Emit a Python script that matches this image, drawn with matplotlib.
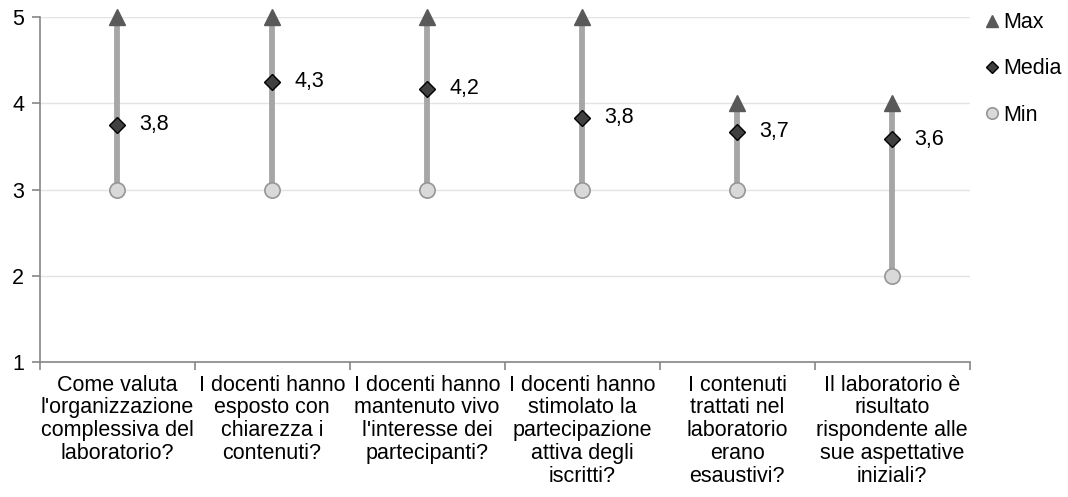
import matplotlib
matplotlib.use("Agg")
import matplotlib.pyplot as plt
from decimal import Decimal, ROUND_HALF_UP

plt.rcParams['font.family'] = ['Liberation Sans', 'DejaVu Sans']

categories = [
    "Come valuta\nl'organizzazione\ncomplessiva del\nlaboratorio?",
    "I docenti hanno\nesposto con\nchiarezza i\ncontenuti?",
    "I docenti hanno\nmantenuto vivo\nl'interesse dei\npartecipanti?",
    "I docenti hanno\nstimolato la\npartecipazione\nattiva degli\niscritti?",
    "I contenuti\ntrattati nel\nlaboratorio\nerano\nesaustivi?",
    "Il laboratorio è\nrisultato\nrispondente alle\nsue aspettative\niniziali?",
]
max_vals = [5, 5, 5, 5, 4, 4]
mean_vals = [3.75, 4.25, 4.17, 3.83, 3.67, 3.58]
min_vals = [3, 3, 3, 3, 3, 2]
y_ticks = [1, 2, 3, 4, 5]


def fmt(v):
    d = Decimal(str(v)).quantize(Decimal("0.1"), rounding=ROUND_HALF_UP)
    return str(d).replace(".", ",")


fig = plt.figure(figsize=(10.68, 4.97), dpi=100)
ax = fig.add_axes([0.037, 0.2716, 0.8708, 0.6942])

x = list(range(len(categories)))
fs = 15.5

ax.vlines(x, min_vals, max_vals, colors="#A6A6A6", linewidth=4.2, zorder=2)
ax.plot(x, max_vals, linestyle="none", marker="^", markersize=11,
        color="#595959", markeredgecolor="#595959", zorder=3, label="Max",
        clip_on=False)
ax.plot(x, mean_vals, linestyle="none", marker="D", markersize=8.2,
        color="#404040", markeredgecolor="#000000", markeredgewidth=1.0,
        zorder=4, label="Media")
ax.plot(x, min_vals, linestyle="none", marker="o", markersize=11,
        color="#D9D9D9", markeredgecolor="#969696", markeredgewidth=1.2,
        zorder=3, label="Min", clip_on=False)

for xi, m in zip(x, mean_vals):
    ax.annotate(fmt(m), (xi, m), xytext=(16, 0), textcoords="offset points",
                ha="left", va="center", fontsize=fs, color="#000000")

ax.set_xlim(-0.5, len(categories) - 0.5)
ax.set_ylim(1, 5)
ax.set_yticks(y_ticks)
ax.set_yticklabels([str(t) for t in y_ticks], fontsize=fs)
ax.yaxis.grid(True, color="#E3E3E3", linewidth=1.0)
ax.set_axisbelow(True)

ax.set_xticks(x)
ax.set_xticklabels(categories, fontsize=fs, linespacing=1.12)
ax.tick_params(axis="x", length=0, pad=9)
ax.set_xticks([i - 0.5 for i in range(len(categories) + 1)], minor=True)
ax.tick_params(axis="x", which="minor", length=6, color="#868686", width=1.2)
ax.tick_params(axis="y", length=6, color="#868686", width=1.2, pad=5)

for side in ("top", "right"):
    ax.spines[side].set_visible(False)
for side in ("left", "bottom"):
    ax.spines[side].set_color("#868686")
    ax.spines[side].set_linewidth(1.2)

leg = ax.legend(loc="upper left", bbox_to_anchor=(0.998, 1.07), frameon=False,
                fontsize=fs, handlelength=0.5, handletextpad=0.25,
                labelspacing=1.17, markerscale=0.75)

fig.savefig("out.png", dpi=100)
